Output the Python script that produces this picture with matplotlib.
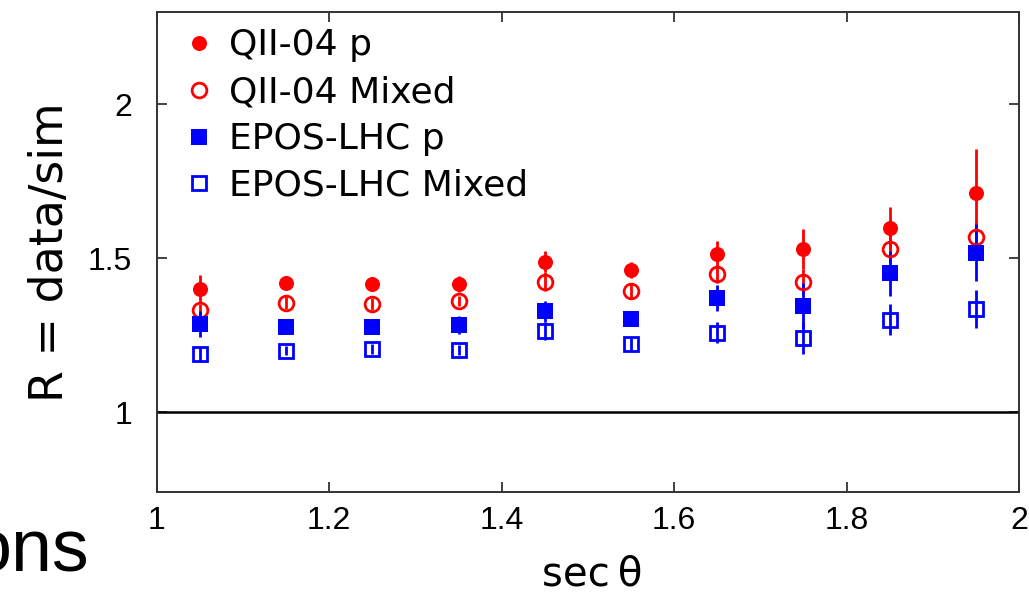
import matplotlib
matplotlib.use("Agg")
import matplotlib.pyplot as plt

# ---- data ----
sec_theta = [1.05, 1.15, 1.25, 1.35, 1.45, 1.55, 1.65, 1.75, 1.85, 1.95]

qii_p = [1.400, 1.419, 1.416, 1.416, 1.489, 1.462, 1.514, 1.529, 1.597, 1.713]
qii_p_err = [0.046, 0.015, 0.015, 0.027, 0.034, 0.027, 0.043, 0.065, 0.070, 0.140]

qii_mix = [1.332, 1.356, 1.352, 1.361, 1.424, 1.392, 1.448, 1.424, 1.529, 1.568]
qii_mix_err = [0.020, 0.020, 0.020, 0.015, 0.030, 0.023, 0.030, 0.040, 0.045, 0.050]

epos_p = [1.287, 1.278, 1.278, 1.283, 1.327, 1.303, 1.372, 1.346, 1.451, 1.518]
epos_p_err = [0.043, 0.010, 0.010, 0.030, 0.033, 0.015, 0.042, 0.072, 0.073, 0.093]

epos_mix = [1.188, 1.200, 1.205, 1.202, 1.264, 1.222, 1.258, 1.241, 1.300, 1.335]
epos_mix_err = [0.025, 0.015, 0.015, 0.015, 0.030, 0.020, 0.034, 0.052, 0.050, 0.063]

labels = ["QII-04 p", "QII-04 Mixed", "EPOS-LHC p", "EPOS-LHC Mixed"]
xticks = [1, 1.2, 1.4, 1.6, 1.8, 2]
xticklabels = ["1", "1.2", "1.4", "1.6", "1.8", "2"]
yticks = [1, 1.5, 2]
yticklabels = ["1", "1.5", "2"]

RED = "#ff0000"
BLUE = "#0000ff"

W, H = 1029, 595
fig = plt.figure(figsize=(W / 100, H / 100), dpi=100)
ax = fig.add_axes([156.7 / W, 1 - 491.7 / H, (1019 - 156.7) / W, 480 / H])

series = [
    (qii_p, qii_p_err, "o", RED, True, 10.8),
    (qii_mix, qii_mix_err, "o", RED, False, 10.6),
    (epos_p, epos_p_err, "s", BLUE, True, 11.0),
    (epos_mix, epos_mix_err, "s", BLUE, False, 10.6),
]

handles = []
for (vals, errs, mk, col, filled, ms), lab in zip(series, labels):
    eb = ax.errorbar(sec_theta, vals, yerr=errs, fmt=mk, color=col, ecolor=col,
                     elinewidth=2.0, capsize=0, markersize=ms,
                     markerfacecolor=col if filled else "none",
                     markeredgecolor=col, markeredgewidth=0 if filled else 2.0,
                     zorder=3, label=lab)
    handles.append(eb[0])

ax.axhline(1.0, color="black", lw=1.8, zorder=2)

ax.set_xlim(1, 2)
ax.set_ylim(0.742, 2.3)
ax.set_xticks(xticks)
ax.set_xticklabels(xticklabels)
ax.set_yticks(yticks)
ax.set_yticklabels(yticklabels)
ax.tick_params(direction="in", length=7, width=1.2, top=True, right=True,
               labelsize=23, color="#222222")
ax.tick_params(axis="x", pad=10)
ax.tick_params(axis="y", pad=17.8)
for lab in ax.get_xticklabels() + ax.get_yticklabels():
    lab.set_fontfamily(["Liberation Sans", "DejaVu Sans"])

for sp in ax.spines.values():
    sp.set_color("#333333")
    sp.set_linewidth(1.4)

ax.set_xlabel("sec\u2009\u03b8", fontsize=29, family="DejaVu Sans")
ax.xaxis.label.set_va("baseline")
ax.xaxis.set_label_coords((592 - 156.7) / (1019 - 156.7), (491.7 - 586) / 480)

ax.set_ylabel("R = data/sim", fontsize=33, family="DejaVu Sans")
ax.yaxis.label.set_va("baseline")
ax.yaxis.set_label_coords((63 - 156.7) / (1019 - 156.7), 0.5)

ax.legend(handles=handles, labels=labels, loc="upper left",
          bbox_to_anchor=(0.0282, 0.965), frameon=False,
          numpoints=1, handlelength=1.0, handletextpad=0.33,
          labelspacing=0.355, borderpad=0, borderaxespad=0,
          prop={"family": "DejaVu Sans", "size": 26})

# cut-off slide text at lower left
fig.text(90 / W, 1 - 572 / H, "ons", fontsize=53, ha="right", va="baseline",
         family=["Liberation Sans Narrow", "Liberation Sans"])

fig.savefig("out.png", dpi=100)
